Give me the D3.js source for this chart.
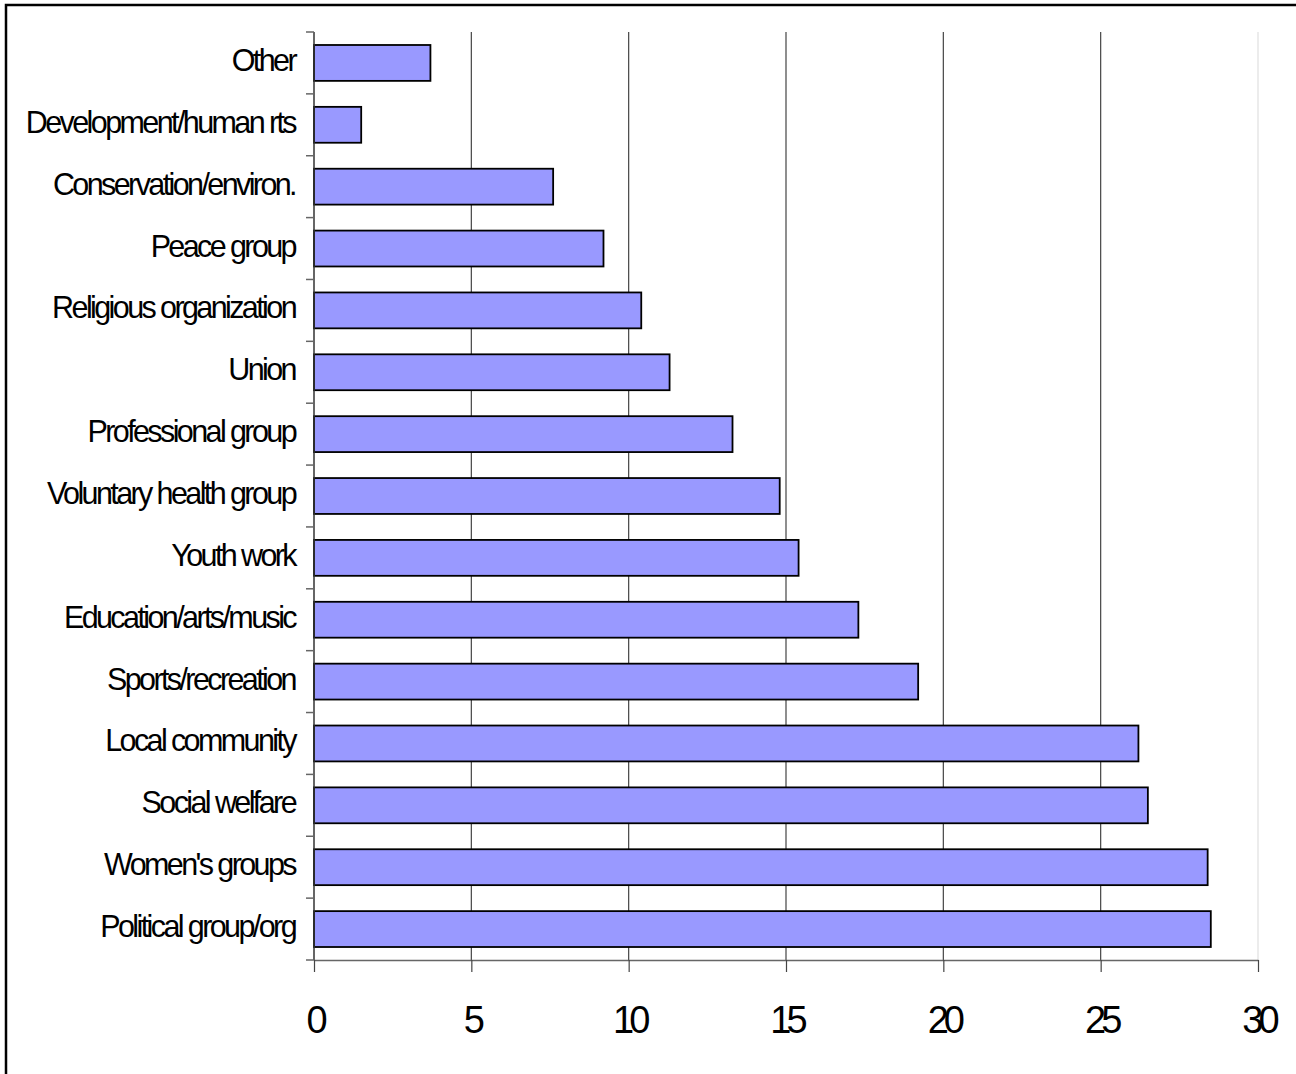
<!DOCTYPE html>
<html>
<head>
<meta charset="utf-8">
<script src="https://cdn.jsdelivr.net/npm/d3@7"></script>
<style>
  body { margin: 0; background: #fff; }
  svg { display: block; }
  text { font-family: "Liberation Sans", Arial, sans-serif; fill: #000; }
</style>
</head>
<body>
<svg width="1296" height="1074"></svg>
<script>
// categories top to bottom
const categories = ['Other', 'Development/human rts', 'Conservation/environ.', 'Peace group',
  'Religious organization', 'Union', 'Professional group', 'Voluntary health group',
  'Youth work', 'Education/arts/music', 'Sports/recreation', 'Local community',
  'Social welfare', "Women's groups", 'Political group/org'];
const values = [3.7, 1.5, 7.6, 9.2, 10.4, 11.3, 13.3, 14.8, 15.4, 17.3, 19.2, 26.2, 26.5, 28.4, 28.5];
const xTicks = [0, 5, 10, 15, 20, 25, 30];

const svg = d3.select('svg');

// outer frame
svg.append('rect')
  .attr('x', 6).attr('y', 5).attr('width', 1300).attr('height', 1080)
  .attr('fill', 'none').attr('stroke', '#000').attr('stroke-width', 2.5);

const plot = { left: 314, right: 1258, top: 32, bottom: 960 };

const x = d3.scaleLinear().domain([0, 30]).range([plot.left, plot.right]);
const y = d3.scaleBand().domain(categories).range([plot.top, plot.bottom])
  .paddingInner(0.42).paddingOuter(0.21);

// gridlines
svg.append('g').selectAll('line')
  .data(xTicks.slice(1))
  .enter().append('line')
  .attr('x1', d => x(d)).attr('x2', d => x(d))
  .attr('y1', plot.top).attr('y2', plot.bottom)
  .attr('stroke', d => d === 30 ? '#e0e0e0' : '#444')
  .attr('stroke-width', 1.2);

// bars
svg.append('g').selectAll('rect')
  .data(categories)
  .enter().append('rect')
  .attr('x', x(0))
  .attr('y', d => y(d))
  .attr('width', (d, i) => x(values[i]) - x(0))
  .attr('height', y.bandwidth())
  .attr('fill', '#9999ff')
  .attr('stroke', '#000')
  .attr('stroke-width', 1.8);

// x axis
const xAxis = svg.append('g')
  .attr('transform', 'translate(0,' + plot.bottom + ')')
  .call(d3.axisBottom(x).tickValues(xTicks).tickSize(12).tickSizeOuter(0).tickPadding(34));
xAxis.select('.domain').attr('stroke', '#666').attr('stroke-width', 1.5);
xAxis.selectAll('.tick line').attr('stroke', '#444').attr('stroke-width', 1.2);
xAxis.selectAll('.tick text')
  .style('font-family', '"Liberation Sans", Arial, sans-serif')
  .attr('font-size', 38).attr('letter-spacing', -5).attr('dy', '0.71em');

// y axis line and boundary ticks
const bounds = d3.range(categories.length + 1).map(i => plot.top + i * (plot.bottom - plot.top) / categories.length);
svg.append('line')
  .attr('x1', plot.left).attr('x2', plot.left)
  .attr('y1', plot.top).attr('y2', plot.bottom)
  .attr('stroke', '#333').attr('stroke-width', 1.5);
svg.append('g').selectAll('line')
  .data(bounds)
  .enter().append('line')
  .attr('x1', plot.left - 8).attr('x2', plot.left)
  .attr('y1', d => d).attr('y2', d => d)
  .attr('stroke', '#666').attr('stroke-width', 1.5);

// category labels
svg.append('g').selectAll('text')
  .data(categories)
  .enter().append('text')
  .attr('x', plot.left - 19)
  .attr('y', d => y(d) + y.bandwidth() / 2 + 8)
  .attr('text-anchor', 'end')
  .attr('font-size', 30.5)
  .attr('letter-spacing', -2.6)
  .text(d => d);
</script>
</body>
</html>
